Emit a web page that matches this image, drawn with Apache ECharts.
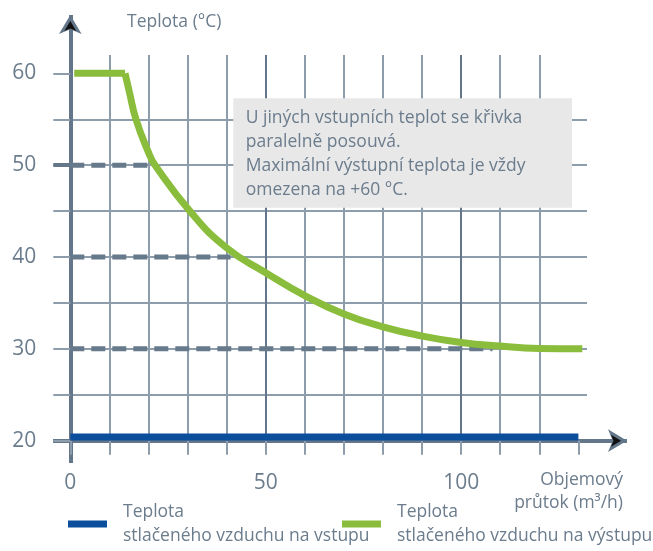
<!DOCTYPE html>
<html><head><meta charset="utf-8">
<script src="https://cdn.jsdelivr.net/npm/echarts@6/dist/echarts.min.js"></script>
<style>html,body{margin:0;padding:0;background:#fff}#c{width:653px;height:551px}</style>
</head><body><div id="c"></div>
<script>
// ---- data ----
const flowTicks = [0,10,20,30,40,50,60,70,80,90,100,110,120,130];
const flowLabels = [0,50,100];
const tempTicks = [20,25,30,35,40,45,50,55,60];
const tempLabels = [20,30,40,50,60];

const inletName = 'Teplota stlačeného vzduchu na vstupu';
const outletName = 'Teplota stlačeného vzduchu na výstupu';

const inletFlow = [0,130];
const inletTemp = [20.4,20.4];

const outletFlatFlow = [1,14];
const outletFlatTemp = [60,60];
const outletFlow = [14,15.1,16.8,20,21.7,30.6,40,50,60,70,80,90,100,110,120,131];
const outletTemp = [60,58,55,51.4,50,45,41.0,38.3,35.8,33.8,32.4,31.4,30.7,30.3,30.05,30];

const refTemp = [50,40,30];
const refEndFlow = [20,41,108];

const yTitle = 'Teplota (°C)';
const xTitle = ['Objemový','průtok (m³/h)'];
const noteLines = ['U jiných vstupních teplot se křivka','paralelně posouvá.','Maximální výstupní teplota je vždy','omezena na +60 °C.'];

// ---- styles ----
const FONT = '"Open Sans", "Noto Sans", sans-serif';
const TXT = '#6b7c8d';
const AX = '#64778a';
const LIGHT = '#8e9dab';
const DARK = '#64778a';
const BLUE = '#0b4f9c';
const GREEN = '#8abd3b';
const DASH = '#677a8b';

const zip = (a,b) => a.map((v,i) => [v,b[i]]);

const chart = echarts.init(document.getElementById('c'), null, {renderer:'canvas'});

const series = [];
refTemp.forEach((t,i) => {
  series.push({type:'line', xAxisIndex:0, yAxisIndex:0, data:[[0,t],[refEndFlow[i],t]],
    symbol:'none', silent:true, z:2,
    lineStyle:{color:DASH, width:5, type:[14,7], cap:'butt'}});
});
series.push({name:inletName, type:'line', xAxisIndex:0, yAxisIndex:0, data:zip(inletFlow,inletTemp),
  symbol:'none', z:4, itemStyle:{color:BLUE}, lineStyle:{color:BLUE, width:7, cap:'butt'}});
series.push({name:outletName, type:'line', xAxisIndex:0, yAxisIndex:0, data:zip(outletFlatFlow,outletFlatTemp),
  symbol:'none', z:4, itemStyle:{color:GREEN}, lineStyle:{color:GREEN, width:7, cap:'butt'}});
series.push({name:outletName, type:'line', xAxisIndex:0, yAxisIndex:0, data:zip(outletFlow,outletTemp),
  symbol:'none', smooth:0.5, z:4, itemStyle:{color:GREEN}, lineStyle:{color:GREEN, width:7, cap:'butt'}});

const xSplitColors = flowTicks.map(v => (v > 0 && v % 50 === 0) ? DARK : LIGHT);
const ySplitColors2 = [20,30,40,50,60,62].map(v => v === 50 ? DARK : 'rgba(0,0,0,0)');

const legendText = {fontSize:17.5, lineHeight:23.5, color:TXT, fontFamily:FONT, padding:[12,0,0,11]};
const fmt = n => n.replace('Teplota ', 'Teplota\n');

const option = {
  animation:false,
  backgroundColor:'#fff',
  grid:[
    {left:70.3, right:66, top:55, bottom:110.3},
    {left:53, right:26, top:15, bottom:88},
    {left:53, right:26, top:15, bottom:88}
  ],
  xAxis:[
    {gridIndex:0, type:'value', min:0, max:132.2, interval:10,
      axisLine:{show:false},
      axisTick:{show:true, length:14, customValues:flowTicks, lineStyle:{color:LIGHT, width:2}},
      axisLabel:{customValues:flowLabels, margin:32, fontSize:21, color:TXT, fontFamily:FONT},
      splitLine:{show:true, showMaxLine:false, lineStyle:{color:xSplitColors, width:2}}},
    {gridIndex:1, type:'value', min:-17.3, max:556.7,
      axisLine:{show:true, onZero:true, symbol:['none','arrow'], symbolSize:[17,19], lineStyle:{color:AX, width:4, cap:'butt'}},
      axisTick:{show:false}, axisLabel:{show:false}, splitLine:{show:false}},
    {gridIndex:2, type:'value', min:-17.3, max:556.7,
      axisLine:{show:true, onZero:true, symbol:['none','arrow'], symbolSize:[9,10], symbolOffset:[0,-6], lineStyle:{color:'#111', width:0}},
      axisTick:{show:false}, axisLabel:{show:false}, splitLine:{show:false}}
  ],
  yAxis:[
    {gridIndex:0, type:'value', position:'left', min:20, max:62, interval:5,
      axisLine:{show:false},
      axisTick:{show:true, length:17, customValues:tempTicks, lineStyle:{color:LIGHT, width:2}},
      axisLabel:{customValues:tempLabels, margin:34, fontSize:21, color:TXT, fontFamily:FONT},
      splitLine:{show:true, showMaxLine:false, lineStyle:{color:LIGHT, width:2}}},
    {gridIndex:0, type:'value', position:'left', min:20, max:62, interval:10,
      axisLine:{show:false},
      axisTick:{show:true, length:17, customValues:[50], lineStyle:{color:DARK, width:4}},
      axisLabel:{show:false},
      splitLine:{show:true, showMaxLine:false, lineStyle:{color:ySplitColors2, width:4}}},
    {gridIndex:1, type:'value', min:-22.3, max:425.7,
      axisLine:{show:true, onZero:true, symbol:['none','arrow'], symbolSize:[17,19], lineStyle:{color:AX, width:4, cap:'butt'}},
      axisTick:{show:false}, axisLabel:{show:false}, splitLine:{show:false}},
    {gridIndex:2, type:'value', min:-22.3, max:425.7,
      axisLine:{show:true, onZero:true, symbol:['none','arrow'], symbolSize:[9,10], symbolOffset:[0,-6], lineStyle:{color:'#111', width:0}},
      axisTick:{show:false}, axisLabel:{show:false}, splitLine:{show:false}}
  ],
  legend:[
    {data:[{name:inletName, icon:'rect'}], left:68, top:494.5, padding:0, itemWidth:39, itemHeight:7,
      selectedMode:false, formatter:fmt, textStyle:legendText, itemStyle:{borderWidth:0}},
    {data:[{name:outletName, icon:'rect'}], left:342, top:494.5, padding:0, itemWidth:39, itemHeight:7,
      selectedMode:false, formatter:fmt, textStyle:legendText, itemStyle:{borderWidth:0}}
  ],
  graphic:{
    zlevel:1,
    elements:[
      {type:'text', x:127, y:22, style:{text:yTitle, font:'17.5px '+FONT, fill:TXT, verticalAlign:'middle'}},
      {type:'text', x:623, y:480, style:{text:xTitle[0], font:'17.5px '+FONT, fill:TXT, align:'right', verticalAlign:'middle'}},
      {type:'text', x:623, y:503.5, style:{text:xTitle[1], font:'17.5px '+FONT, fill:TXT, align:'right', verticalAlign:'middle'}},
      {type:'rect', x:233.3, y:98.3, z:100, shape:{x:0, y:0, width:338.7, height:109.4}, style:{fill:'#e8e8e8'}},
      {type:'text', x:245.7, y:106, z:101, style:{text:noteLines.join('\n'), font:'17.5px '+FONT, lineHeight:24, fill:TXT, verticalAlign:'top'}}
    ]
  },
  series:series
};
chart.setOption(option);
</script></body></html>
